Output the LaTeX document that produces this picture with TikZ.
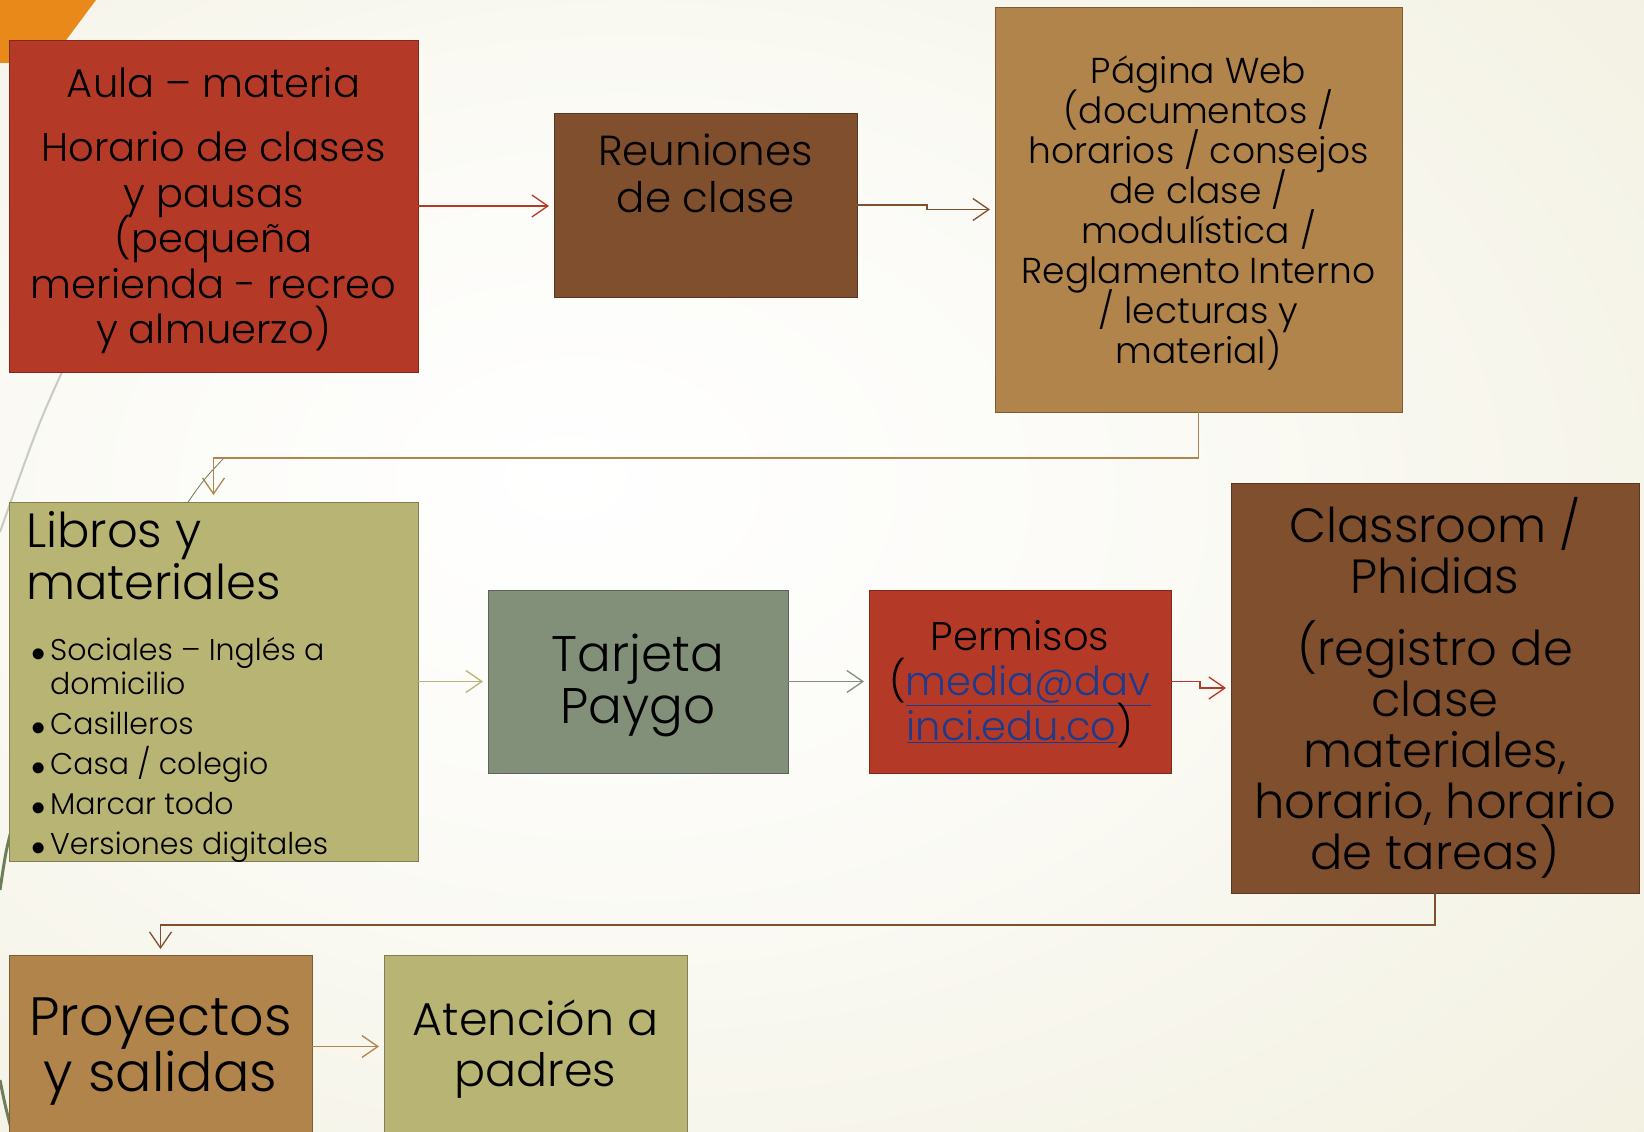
\documentclass[tikz,border=0pt]{standalone}
\usepackage{fontspec}
\setmainfont{Poppins}[UprightFont={* Light}]
\usetikzlibrary{arrows.meta}
\definecolor{cred}{HTML}{B43A27}
\definecolor{cbrown}{HTML}{7F4F2E}
\definecolor{ctan}{HTML}{B0844A}
\definecolor{colive}{HTML}{B8B474}
\definecolor{csage}{HTML}{839079}
\definecolor{corange}{HTML}{E8891A}
\definecolor{cbeige}{HTML}{E8E4C8}
\definecolor{linkblue}{HTML}{1F3A8A}
\definecolor{wispgreen}{HTML}{6E7D5A}
\definecolor{wispgray}{HTML}{C8CBBE}
\newcommand{\setfs}[2]{\fontsize{#1}{#2}\selectfont\lineskiplimit=-200pt\lineskip=0pt\relax}
\newcommand{\bmark}{\hspace*{5pt}\makebox[19pt][l]{\raisebox{-1.2pt}{\scalebox{1.15}{\ensuremath{\bullet}}}}}
\pgfdeclareradialshading{bgshade}{\pgfpoint{-8bp}{4bp}}{color(0bp)=(white); color(15bp)=(white!85!cbeige); color(40bp)=(white!45!cbeige); color(60bp)=(cbeige); color(75bp)=(cbeige)}
\tikzset{
  box/.style={draw=#1!70!black, fill=#1, line width=0.8pt, inner sep=0pt, outer sep=0pt, anchor=north west},
  txt/.style={align=center, text=black, inner sep=0pt},
  conn/.style={draw=#1, line width=1.3pt, -{Straight Barb[length=16pt,width=22pt,line width=1.3pt]}, shorten >=5pt},
}
\begin{document}
\begin{tikzpicture}[x=1pt,y=-1pt]
\useasboundingbox (0,0) rectangle (1644,1132);
\shade[shading=bgshade] (0,0) rectangle (1644,1132);
% theme decorations
\fill[corange] (0,0) -- (96,0) -- (49,63) -- (0,63) -- cycle;
\draw[wispgray, line width=2pt] (62,372) .. controls (38,425) .. (0,532);
\draw[wispgreen, line width=0.8pt] (224,458) .. controls (205,478) .. (188,502);
\draw[wispgreen, line width=3pt] (14,820) .. controls (6,850) .. (0,890);
\draw[wispgreen, line width=3pt] (0,1080) .. controls (5,1105) .. (12,1132);
% boxes
\node[box=cred, minimum width=409pt, minimum height=332pt] (aula) at (9,40) {};
\node[txt, font=\setfs{40}{45.6}, yshift=-5pt] (aulatxt) at (aula.center)
  {Aula – materia\\[18pt]Horario  de clases\\y pausas\\(pequeña\\merienda - recreo\\y almuerzo)};
\node[box=cbrown, minimum width=303pt, minimum height=184pt] (reun) at (554,113) {};
\node[txt, font=\setfs{42}{47}, yshift=32pt] (reuntxt) at (reun.center) {Reuniones\\de clase};
\node[box=ctan, minimum width=407pt, minimum height=405pt] (pag) at (995,7) {};
\node[txt, font=\setfs{36}{40}, yshift=-3pt] (pagtxt) at (pag.center)
  {Página Web\\(documentos /\\horarios / consejos\\de clase /\\modulística  /\\Reglamento Interno\\/  lecturas y\\material)};
\node[box=colive, minimum width=409pt, minimum height=359pt] (libros) at (9,502) {};
\node[anchor=base west, inner sep=0pt] (librostxt) at (26,547) {\begin{minipage}[t]{385pt}\raggedright
  \setfs{48}{52}Libros y\\materiales\par\vspace{28pt}
  \setfs{30}{33.5}%
  \noindent\bmark Sociales – Inglés a\\\hspace*{24pt}domicilio\par\vspace{6.5pt}
  \noindent\bmark Casilleros\par\vspace{6.5pt}
  \noindent\bmark Casa / colegio\par\vspace{6.5pt}
  \noindent\bmark Marcar todo\par\vspace{6.5pt}
  \noindent\bmark Versiones digitales\par
  \end{minipage}};
\node[box=csage, minimum width=300pt, minimum height=183pt] (tarj) at (488,590) {};
\node[txt, font=\setfs{50}{52}, yshift=-4pt] (tarjtxt) at (tarj.center) {Tarjeta\\Paygo};
\node[box=cred, minimum width=302pt, minimum height=183pt] (perm) at (869,590) {};
\node[txt, font=\setfs{40}{45}, yshift=-3pt] (permtxt) at (perm.center)
  {Permisos\\(\textcolor{linkblue}{\underline{media@dav}}\\\textcolor{linkblue}{\underline{inci.edu.co}})};
\node[box=cbrown, minimum width=408pt, minimum height=410pt] (class) at (1231,483) {};
\node[txt, font=\setfs{48}{51}] (classtxt) at (class.center)
  {Classroom /\\Phidias\\[21pt](registro de\\clase\\materiales,\\horario, horario\\de tareas)};
\node[box=ctan, minimum width=303pt, minimum height=183pt] (proy) at (9,955) {};
\node[txt, font=\setfs{54}{56}, yshift=-5pt] (proytxt) at (proy.center) {Proyectos\\y salidas};
\node[box=colive, minimum width=303pt, minimum height=183pt] (aten) at (384,955) {};
\node[txt, font=\setfs{46}{51}, yshift=-3pt] (atentxt) at (aten.center) {Atención a\\padres};
% connectors
\draw[conn=cred] (aula.east) -- (aula.east -| reun.west);
\draw[conn=cbrown] (reun.east) -- ++(70,0) |- (pag.west);
\draw[conn=ctan, shorten >=7pt] (pag.south) -- (pag.south |- 0,458) -| (libros.north);
\draw[conn=colive] (libros.east) -- (tarj.west);
\draw[conn=csage] (tarj.east) -- (perm.west);
\draw[conn=cred] (perm.east) -- ++(29,0) |- (class.west);
\draw[conn=cbrown, shorten >=6pt] (class.south) -- (class.south |- 0,925) -| (proy.north);
\draw[conn=ctan] (proy.east) -- (proy.east -| aten.west);
\end{tikzpicture}
\end{document}
